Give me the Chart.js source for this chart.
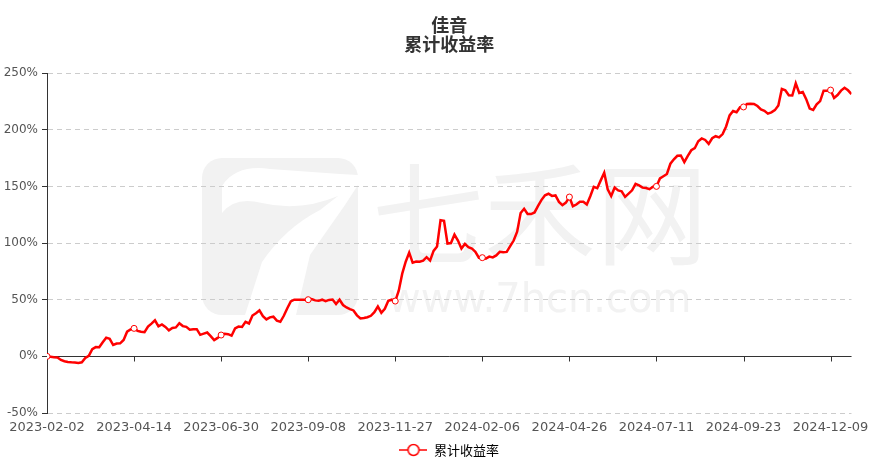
<!DOCTYPE html>
<html>
<head>
<meta charset="utf-8">
<script src="https://cdn.jsdelivr.net/npm/chart.js@4/dist/chart.umd.min.js"></script>
<style>
html,body{margin:0;padding:0;background:#fff;}
#wrap{width:876px;height:462px;position:relative;}
</style>
</head>
<body>
<div id="wrap"><canvas id="c" width="876" height="462"></canvas></div>
<script>
// ---- data ----
const chartTitle = ['佳音', '累计收益率'];
const seriesName = '累计收益率';
const tickLabels = ['2023-02-02','2023-04-14','2023-06-30','2023-09-08','2023-11-27','2024-02-06','2024-04-26','2024-07-11','2024-09-23','2024-12-09'];
const labelEvery = 25; // samples between labelled dates
const yMin = -50, yMax = 250, yStep = 50;
const values = [
  0, -0.4, -0.8, -1, -3.2, -4.3, -4.9, -5.3, -5.5, -5.8,
  -5.2, -1.5, 0.5, 6.4, 8.2, 8, 12.5, 16.5, 15.5, 10,
  11.3, 11.5, 14.5, 21.8, 23.7, 24.7, 22.5, 21.7, 21.4, 26.3,
  28.9, 31.8, 26.5, 28.2, 26, 23, 25, 25.5, 29.2, 26.7,
  26, 23.5, 24, 24, 19, 20, 21, 17.8, 14.3, 16.3,
  18.8, 20, 19.6, 18.2, 24.7, 26.3, 26, 30.5, 29, 36,
  38.1, 40.5, 35.5, 32.6, 34.4, 35, 31.5, 30.5, 35.8, 42.5,
  48.5, 50, 50, 50, 50, 50, 50.6, 49.4, 49, 50,
  48.7, 49.8, 50.2, 46.2, 50, 45.3, 43.1, 41.7, 40.5, 36.2,
  33.4, 33.8, 34.5, 35.8, 39, 44, 38.5, 42, 49, 50,
  48.8, 58, 73, 83.5, 91.5, 82.6, 83.6, 83.5, 84.5, 87.5,
  84.5, 93.1, 97, 120.2, 119.6, 99.6, 100, 107.5, 102.2, 95.2,
  99.2, 96.4, 95.2, 92.2, 87.1, 87.1, 86.3, 88, 87.3, 89.1,
  92.2, 91.8, 92.2, 97.3, 102.2, 110, 126.5, 130.2, 125.7, 125.6,
  127, 132.8, 138.1, 142.2, 143.5, 141.6, 142, 136.3, 133.4, 135.7,
  140.6, 132.5, 134, 136.5, 136.4, 134, 141.3, 149.6, 148.4, 155.3,
  162, 147.5, 141.5, 149, 146.5, 145.7, 140.8, 143.6, 146.5, 152.2,
  150.9, 148.9, 148.5, 147.5, 149.7, 150, 157, 159, 161, 170,
  173.9, 177, 177.3, 171.5, 177, 181.9, 183.7, 189.8, 192.3, 191,
  187.5, 192.5, 194.3, 193.3, 196.2, 202.9, 212.6, 216.5, 215.4, 219.9,
  220.1, 222.7, 223, 222.8, 220.9, 217.9, 216.7, 214.2, 215.3, 217.3,
  221.4, 236, 234.8, 230.4, 230.2, 240.9, 232.5, 233.3, 227, 218.7,
  217.5, 222.5, 225.3, 234.5, 234.5, 235, 228, 230.6, 234.5, 237,
  234.8, 231.5
];

const RED = '#ff0000';
const CJK = '"Noto Sans CJK SC", "DejaVu Sans", sans-serif';
const LATIN = '"DejaVu Sans", sans-serif';

// legend icon: line with hollow circle
const legendIcon = document.createElement('canvas');
legendIcon.width = 28; legendIcon.height = 14;
(function(){
  const g = legendIcon.getContext('2d');
  g.strokeStyle = RED; g.lineWidth = 1.5;
  g.beginPath(); g.moveTo(0, 7); g.lineTo(28, 7); g.stroke();
  g.beginPath(); g.arc(14, 7, 5.5, 0, Math.PI * 2);
  g.fillStyle = '#fff'; g.fill(); g.stroke();
})();

// background + faint watermark
const backgroundPlugin = {
  id: 'bg',
  beforeDraw(chart) {
    const ctx = chart.ctx;
    ctx.save();
    ctx.fillStyle = '#fff';
    ctx.fillRect(0, 0, chart.width, chart.height);
    const wm = '#f2f2f2';
    ctx.fillStyle = wm;
    ctx.beginPath();
    ctx.roundRect(202, 158, 156, 157, 20);
    ctx.fill();
    ctx.fillStyle = '#fff';
    ctx.beginPath();
    ctx.moveTo(222, 186);
    ctx.bezierCurveTo(232, 170, 250, 166, 270, 169);
    ctx.lineTo(340, 174);
    ctx.lineTo(358, 175);
    ctx.lineTo(358, 185);
    ctx.lineTo(345, 205);
    ctx.lineTo(310, 255);
    ctx.lineTo(296, 315);
    ctx.lineTo(245, 315);
    ctx.lineTo(262, 262);
    ctx.quadraticCurveTo(285, 228, 320, 210);
    ctx.lineTo(338, 196);
    ctx.quadraticCurveTo(300, 212, 262, 203);
    ctx.quadraticCurveTo(235, 196, 222, 213);
    ctx.closePath();
    ctx.fill();
    ctx.fillStyle = wm;
    ctx.textAlign = 'left';
    ctx.textBaseline = 'middle';
    ctx.font = '112px ' + CJK;
    ctx.fillText('七禾网', 372, 214);
    ctx.textBaseline = 'alphabetic';
    ctx.font = '40px ' + LATIN;
    ctx.fillText('www.7hcn.com', 388, 312);
    ctx.restore();
  }
};

// x axis line drawn at zero, with tick marks
const zeroAxisPlugin = {
  id: 'zeroAxis',
  beforeDatasetsDraw(chart) {
    const {ctx, chartArea, scales: {x, y}} = chart;
    const y0 = Math.round(y.getPixelForValue(0)) + 0.5;
    ctx.save();
    ctx.strokeStyle = '#333';
    ctx.lineWidth = 1;
    ctx.beginPath();
    ctx.moveTo(chartArea.left, y0);
    ctx.lineTo(chartArea.right, y0);
    tickLabels.forEach((_, k) => {
      const px = Math.round(x.getPixelForValue(k * labelEvery)) + 0.5;
      ctx.moveTo(px, y0);
      ctx.lineTo(px, y0 + 5);
    });
    ctx.stroke();
    ctx.restore();
  }
};

const legendShift = {
  id: 'legendShift',
  afterLayout(chart) {
    if (chart.legend) { chart.legend.top += 4.5; chart.legend.bottom += 4.5; }
  }
};

new Chart(document.getElementById('c'), {
  type: 'line',
  data: {
    datasets: [{
      label: seriesName,
      data: values.map((v, i) => ({x: i, y: v})),
      borderColor: RED,
      borderWidth: 2.5,
      tension: 0,
      fill: false,
      pointRadius: c => (c.dataIndex % labelEvery === 0 ? 3 : 0),
      pointHoverRadius: 0,
      pointBackgroundColor: '#fff',
      pointBorderColor: RED,
      pointBorderWidth: 1
    }]
  },
  options: {
    responsive: false,
    animation: false,
    events: [],
    layout: {padding: {top: 0, right: 24, bottom: 0, left: 0}},
    plugins: {
      title: {
        display: true,
        text: chartTitle,
        fullSize: false,
        color: '#333',
        font: {family: CJK, size: 18, weight: 'bold', lineHeight: 1.03},
        padding: {top: 16, bottom: 20}
      },
      legend: {
        display: true,
        position: 'bottom',
        fullSize: false,
        labels: {
          usePointStyle: true,
          pointStyleWidth: 28,
          padding: 0,
          color: '#333',
          font: {family: CJK, size: 13},
          generateLabels: () => [{
            text: seriesName,
            pointStyle: legendIcon,
            fillStyle: '#fff',
            strokeStyle: RED,
            lineWidth: 0,
            hidden: false,
            datasetIndex: 0
          }]
        }
      },
      tooltip: {enabled: false}
    },
    scales: {
      x: {
        type: 'linear',
        min: 0,
        max: values.length - 1,
        grid: {display: false, drawTicks: false, tickLength: 0},
        border: {display: false},
        afterBuildTicks: s => { s.ticks = tickLabels.map((_, k) => ({value: k * labelEvery})); },
        ticks: {
          autoSkip: false,
          maxRotation: 0,
          padding: 7,
          color: '#555',
          font: {family: LATIN, size: 13},
          callback: (v, i) => tickLabels[i]
        },
        afterFit: s => { s.height = 26; }
      },
      y: {
        min: yMin,
        max: yMax,
        ticks: {
          stepSize: yStep,
          padding: 4,
          color: '#555',
          font: {family: LATIN, size: 12},
          callback: v => v + '%'
        },
        grid: {color: '#cccccc', tickColor: '#333', tickLength: 5, tickBorderDash: []},
        border: {display: true, color: '#333', width: 1, dash: [5, 4]},
        afterFit: s => { s.width = 47; }
      }
    }
  },
  plugins: [backgroundPlugin, zeroAxisPlugin, legendShift]
});
</script>
</body>
</html>
